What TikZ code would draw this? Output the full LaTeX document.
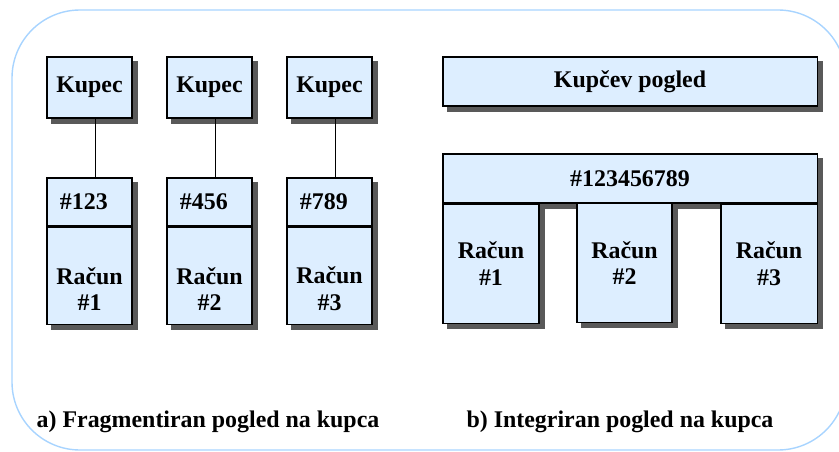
\documentclass[tikz,border=0pt]{standalone}
\usepackage{fontspec}
\setmainfont{Liberation Serif}
\usetikzlibrary{backgrounds}
\definecolor{okvir}{HTML}{A8D4FF}
\definecolor{polnilo}{HTML}{DDEEFF}

\begin{document}
\begin{tikzpicture}[x=0.025cm, y=-0.025cm,
    box/.style = {draw, line width=0.8pt, fill=polnilo, inner sep=0pt,
        font=\bfseries\fontsize{17}{19}\selectfont, align=center},
    kupec/.style = {box, minimum width=2.125cm, minimum height=1.525cm},
    idbox/.style = {box, text width=1.475cm, inner xsep=0.325cm, align=left, minimum height=1.2cm},
    racun/.style = {box, minimum width=2.125cm, minimum height=2.425cm},
    racunb/.style = {box, minimum width=2.4cm, minimum height=2.975cm},
    senca/.style = {fill=black!65},
    txt/.style = {font=\bfseries\fontsize{17}{19}\selectfont, align=center}]
    \useasboundingbox (0,0) rectangle (839,452);

    % Vue fragmentée
    \node[kupec] (k1) at (89.5,87.5)  {Kupec};
    \node[kupec] (k2) at (209.5,87.5) {Kupec};
    \node[kupec] (k3) at (329.5,87.5) {Kupec};

    \node[idbox] (i1) at (89.5,202)  {\#123};
    \node[idbox] (i2) at (209.5,202) {\#456};
    \node[idbox] (i3) at (329.5,202) {\#789};

    \node[racun, anchor=north] (r1) at (i1.south) {};
    \node[racun, anchor=north] (r2) at (i2.south) {};
    \node[racun, anchor=north] (r3) at (i3.south) {};

    \node[txt] (t1) at (89.5,289)  {Račun\\\#1};
    \node[txt] (t2) at (209.5,289) {Račun\\\#2};
    \node[txt] (t3) at (329.5,289) {Račun\\\#3};

    \draw[line width=0.8pt] ([xshift=0.14cm]k1.south) -- ([xshift=0.14cm]i1.north);
    \draw[line width=0.8pt] ([xshift=0.14cm]k2.south) -- ([xshift=0.14cm]i2.north);
    \draw[line width=0.8pt] ([xshift=0.14cm]k3.south) -- ([xshift=0.14cm]i3.north);

    % Vue intégrée
    \node[box, minimum width=9.35cm, minimum height=1.225cm] (pogled) at (630,81.5) {Kupčev pogled};
    \node[box, minimum width=9.35cm, minimum height=1.225cm] (skupni) at (630,178.5) {\#123456789};

    \node[racunb, anchor=north west] (q1) at (skupni.south west) {Račun\\\#1};
    \node[racunb, anchor=north, minimum width=2.375cm] (q2) at (624.5,203) {Račun\\\#2};
    \node[racunb, anchor=north east] (q3) at (skupni.south east) {Račun\\\#3};

    % Légendes
    \node[txt] (a) at (208,422) {a) Fragmentiran pogled na kupca};
    \node[txt] (b) at (620,422) {b) Integriran pogled na kupca};

    % Cadre et ombres
    \begin{pgfonlayer}{background}
        \draw[okvir, line width=1pt, rounded corners=1.7cm] (12,10) rectangle (846,450);
        \foreach \n in {k1,k2,k3,i1,i2,i3,r1,r2,r3,pogled,skupni,q1,q2,q3}
            \fill[senca] ([shift={(5,5)}]\n.south west) rectangle ([shift={(5,5)}]\n.north east);
    \end{pgfonlayer}
\end{tikzpicture}
\end{document}
